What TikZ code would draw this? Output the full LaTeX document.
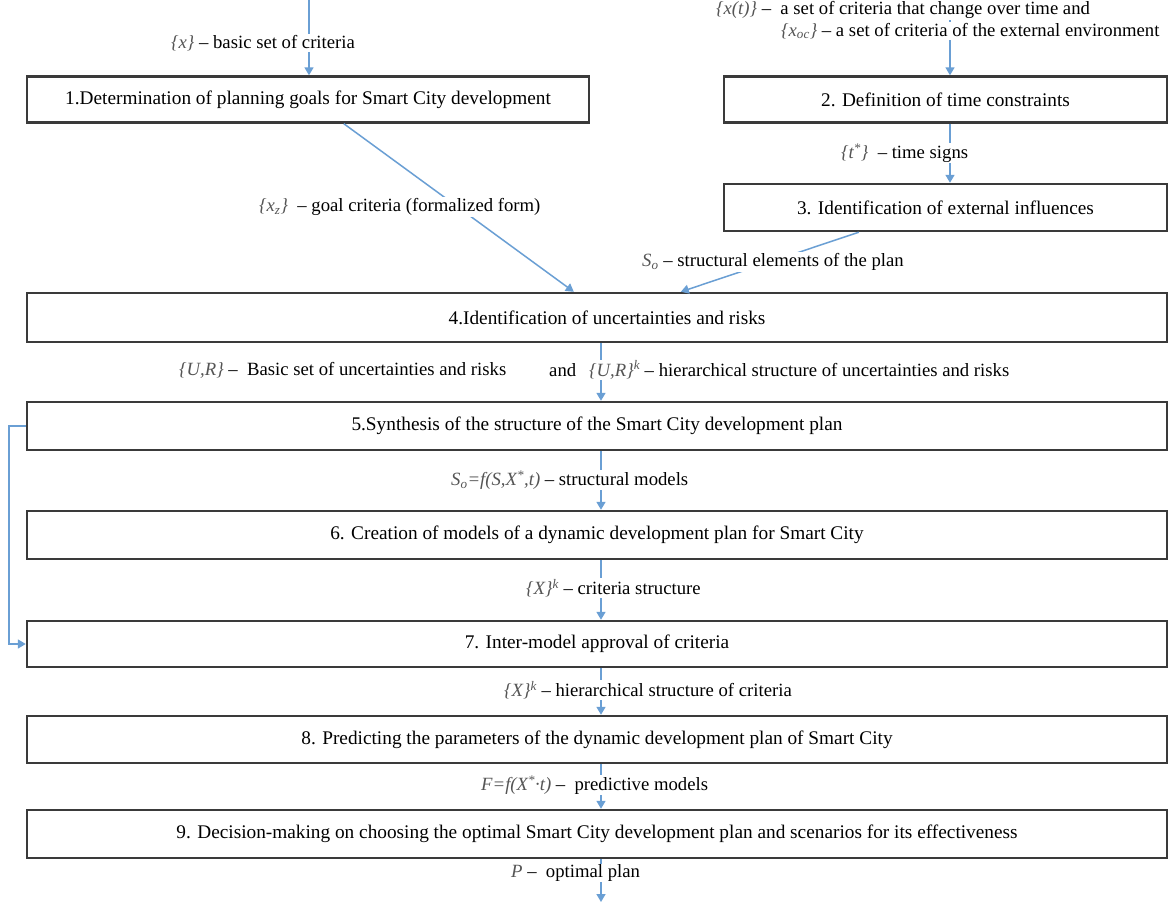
\documentclass[tikz,border=0pt]{standalone}
\usepackage{fontspec}
\setmainfont{Liberation Serif}
\usetikzlibrary{arrows.meta,calc}
\definecolor{arr}{HTML}{6A9FD4}
\definecolor{boxline}{HTML}{3A3A3A}
\definecolor{mathgray}{HTML}{555555}
\newcommand{\mi}[1]{{\color{mathgray}\itshape #1}}
\begin{document}
\begin{tikzpicture}[x=1pt,y=-1pt,
  box/.style={draw=boxline, line width=2.4pt, inner sep=0pt, fill=white,
    font=\fontsize{19.3}{21}\selectfont},
  lab/.style={font=\fontsize{18.7}{20}\selectfont, inner sep=1pt, fill=white, anchor=west},
  con/.style={draw=arr, line width=1.5pt, -{Triangle[width=9pt,length=8pt]}}
]
\useasboundingbox[fill=white] (0,0) rectangle (1171,902);

% boxes
\node[box, minimum width=562pt, minimum height=46pt] (b1) at (308,99.5)
  {1.Determination of planning goals for Smart City development};
\node[box, minimum width=443pt, minimum height=46pt] (b2) at (945.5,99.5)
  {2. Definition of time constraints};
\node[box, minimum width=443pt, minimum height=47pt] (b3) at (945.5,207.5)
  {3. Identification of external influences};
\node[box, minimum width=1140pt, minimum height=49pt] (b4) at (597,317.5)
  {\hspace{20pt}4.Identification of uncertainties and risks};
\node[box, minimum width=1140pt, minimum height=48pt] (b5) at (597,426)
  {5.Synthesis of the structure of the Smart City development plan};
\node[box, minimum width=1140pt, minimum height=48pt] (b6) at (597,535)
  {6. Creation of models of a dynamic development plan for Smart City};
\node[box, minimum width=1140pt, minimum height=46pt] (b7) at (597,644)
  {7. Inter-model approval of criteria};
\node[box, minimum width=1140pt, minimum height=47pt] (b8) at (597,739.5)
  {8. Predicting the parameters of the dynamic development plan of Smart City};
\node[box, minimum width=1140pt, minimum height=48pt] (b9) at (597,834)
  {9. Decision-making on choosing the optimal Smart City development plan and scenarios for its effectiveness};

% free ends
\coordinate (in1) at (309,0);
\coordinate (in2) at (950,0);
\coordinate (out) at (601,902);

% connectors
\draw[con] (in1) -- (in1 |- b1.north);
\draw[con] (in2) -- (in2 |- b2.north);
\draw[con] (in2 |- b2.south) -- (in2 |- b3.north);
\draw[con] ($(b1.south west)+(318,0)$) -- ($(b4.north west)+(548,0)$);
\draw[con] ($(b3.south west)+(136,0)$) -- ($(b4.north west)+(655,0)$);
\draw[con] (out |- b4.south) -- (out |- b5.north);
\draw[con] (out |- b5.south) -- (out |- b6.north);
\draw[con] (out |- b6.south) -- (out |- b7.north);
\draw[con] (out |- b7.south) -- (out |- b8.north);
\draw[con] (out |- b8.south) -- (out |- b9.north);
\draw[con] (out |- b9.south) -- (out);
\draw[con] (b5.west) -- ++(-17,0) |- (b7.west);

% labels
\node[lab] (l1) at (170,43) {\mi{\{x\}} -- basic set of criteria};
\node[lab] (l2a) at (715,10) {\mi{\{x(t)\}} -- \ a set of criteria that change over time and};
\node[lab] (l2b) at (780,31) {\mi{\{x\textsubscript{oc}\}} -- a set of criteria of the external environment};
\node[lab] (l3) at (840,153) {\mi{\{t\textsuperscript{*}\}} \ -- time signs};
\node[lab] (l4) at (258,207) {\mi{\{x\textsubscript{z}\}} \ -- goal criteria (formalized form)};
\node[lab] (l5) at (641,262) {\mi{S\textsubscript{o}} -- structural elements of the plan};
\node[lab] (l6a) at (178,370) {\mi{\{U,R\}} -- \ Basic set of uncertainties and risks};
\node[lab] (l6c) at (548,370) {and};
\node[lab] (l6b) at (588,370) {\mi{\{U,R\}\textsuperscript{k}} -- hierarchical structure of uncertainties and risks};
\node[lab] (l7) at (450,480) {\mi{S\textsubscript{o}=f(S,X\textsuperscript{*},t)} -- structural models};
\node[lab] (l8) at (525,588) {\mi{\{X\}\textsuperscript{k}} -- criteria structure};
\node[lab] (l9) at (503,690) {\mi{\{X\}\textsuperscript{k}} -- hierarchical structure of criteria};
\node[lab] (l10) at (480,785) {\mi{F=f(X\textsuperscript{*}·t)} -- \ predictive models};
\node[lab] (l11) at (510,873) {\mi{P} -- \ optimal plan};
\end{tikzpicture}
\end{document}
